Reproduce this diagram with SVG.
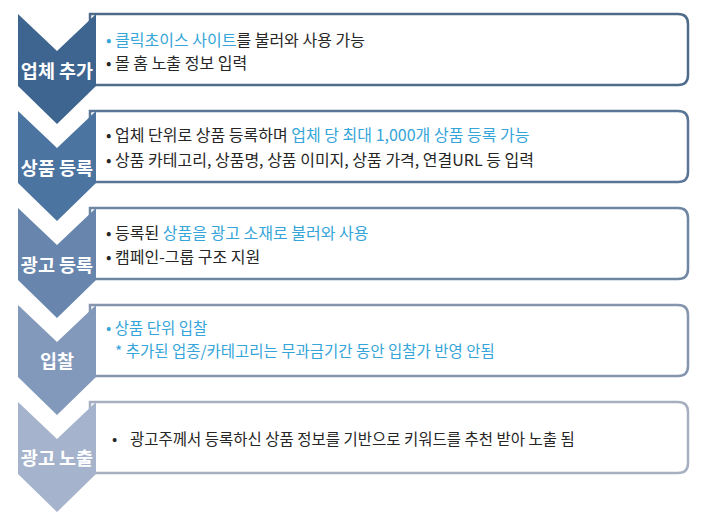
<svg xmlns="http://www.w3.org/2000/svg" width="720" height="519" viewBox="0 0 720 519">
<style>
.box{fill:#ffffff;stroke-width:2.5}
.lbl{font-family:"Noto Sans CJK KR","Noto Sans",sans-serif;font-size:18.5px;font-weight:bold;fill:#ffffff;text-anchor:middle}
.t{font-family:"Noto Sans CJK KR","Noto Sans",sans-serif;font-size:16px;fill:#262626}
.t4{font-family:"Noto Sans CJK KR","Noto Sans",sans-serif;font-size:15.5px}
.b{fill:#35a5d9}
.t5{font-family:"Noto Sans CJK KR","Noto Sans",sans-serif;font-size:15.5px;fill:#262626}
</style>
<defs>
<path id="chev" d="M18,0 L57,37 L96,0 L96,72 L57,110 L18,72 Z"/>
</defs>
<rect width="720" height="519" fill="#ffffff"/>
<g id="step1">
<path class="box" stroke="#4f6b8c" d="M90,14 H678 Q688,14 688,24 V75 Q688,85 678,85 H90 Z"/>
<use href="#chev" y="14" fill="#3d6590"/>
<text class="lbl" x="57" y="77.5">업체 추가</text>
<text class="t" x="106" y="45.5"><tspan class="b">• 클릭초이스 사이트</tspan>를 불러와 사용 가능</text>
<text class="t" x="106" y="68.5">• 몰 홈 노출 정보 입력</text>
</g>
<g id="step2">
<path class="box" stroke="#5a7596" d="M90,111 H678 Q688,111 688,121 V172 Q688,182 678,182 H90 Z"/>
<use href="#chev" y="111" fill="#4c74a0"/>
<text class="lbl" x="57" y="174.5">상품 등록</text>
<text class="t" x="106" y="140.5">• 업체 단위로 상품 등록하며 <tspan class="b">업체 당 최대 1,000개 상품 등록 가능</tspan></text>
<text class="t" x="106" y="165.5">• 상품 카테고리, 상품명, 상품 이미지, 상품 가격, 연결URL 등 입력</text>
</g>
<g id="step3">
<path class="box" stroke="#6f86a2" d="M90,208 H678 Q688,208 688,218 V269 Q688,279 678,279 H90 Z"/>
<use href="#chev" y="208" fill="#6886ad"/>
<text class="lbl" x="57" y="271.5">광고 등록</text>
<text class="t" x="106" y="238.5">• 등록된 <tspan class="b">상품을 광고 소재로 불러와 사용</tspan></text>
<text class="t" x="106" y="262.5">• 캠페인-그룹 구조 지원</text>
</g>
<g id="step4">
<path class="box" stroke="#8595ad" d="M90,305 H678 Q688,305 688,315 V366 Q688,376 678,376 H90 Z"/>
<use href="#chev" y="305" fill="#8399bb"/>
<text class="lbl" x="57" y="367.5">입찰</text>
<text class="t4 b" x="106" y="333.5">• 상품 단위 입찰</text>
<text class="t4 b" x="115" y="356.5">* 추가된 업종/카테고리는 무과금기간 동안 입찰가 반영 안됨</text>
</g>
<g id="step5">
<path class="box" stroke="#a6b0c0" d="M90,402 H678 Q688,402 688,412 V463 Q688,473 678,473 H90 Z"/>
<use href="#chev" y="402" fill="#a5b4cc"/>
<text class="lbl" x="57" y="464.5">광고 노출</text>
<text class="t5" x="112" y="445">•</text>
<text class="t5" x="130" y="445">광고주께서 등록하신 상품 정보를 기반으로 키워드를 추천 받아 노출 됨</text>
</g>
<g id="connectors"/>
</svg>
